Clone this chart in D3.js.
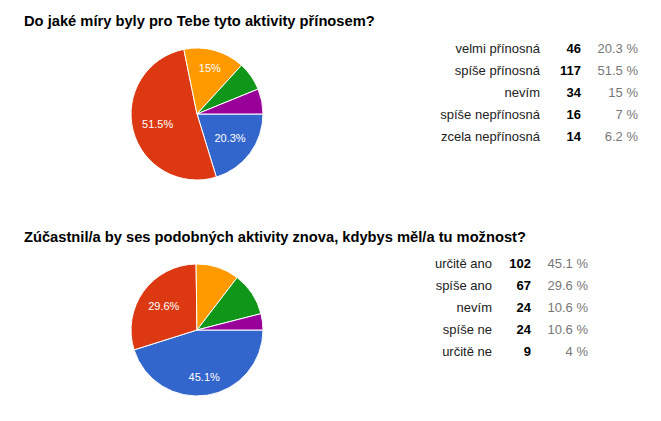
<!DOCTYPE html>
<html>
<head>
<meta charset="utf-8">
<script src="https://cdn.jsdelivr.net/npm/d3@7"></script>
<style>
  html, body { margin: 0; padding: 0; background: #fff; }
  svg { display: block; font-family: Arial, "Liberation Sans", sans-serif; }
</style>
</head>
<body>
<svg id="chart" width="661" height="421"></svg>
<script>
// ---- data ----
const title1 = "Do jaké míry byly pro Tebe tyto aktivity přínosem?";
const categories1 = ["velmi přínosná", "spíše přínosná", "nevím", "spíše nepřínosná", "zcela nepřínosná"];
const counts1 = [46, 117, 34, 16, 14];
const percents1 = ["20.3 %", "51.5 %", "15 %", "7 %", "6.2 %"];
const sliceLabels1 = ["20.3%", "51.5%", "15%", "", ""];

const title2 = "Zúčastnil/a by ses podobných aktivity znova, kdybys měl/a tu možnost?";
const categories2 = ["určitě ano", "spíše ano", "nevím", "spíše ne", "určitě ne"];
const counts2 = [102, 67, 24, 24, 9];
const percents2 = ["45.1 %", "29.6 %", "10.6 %", "10.6 %", "4 %"];
const sliceLabels2 = ["45.1%", "29.6%", "", "", ""];

const colors = ["#3366cc", "#dc3912", "#ff9900", "#109618", "#990099"];

const svg = d3.select("#chart");

function drawBlock(cfg) {
  const g = svg.append("g");
  g.append("text")
    .attr("x", 24).attr("y", cfg.titleY)
    .attr("font-size", 14.7).attr("font-weight", "bold").attr("fill", "#000")
    .text(cfg.title);

  const color = d3.scaleOrdinal().domain(cfg.categories).range(colors);
  const pie = d3.pie().sort(null).value(d => d.v)
    .startAngle(Math.PI / 2).endAngle(Math.PI / 2 + 2 * Math.PI);
  const data = cfg.categories.map((c, i) => ({ c, v: cfg.counts[i], lab: cfg.sliceLabels[i] }));
  const arcs = pie(data);
  const r = 66;
  const arc = d3.arc().innerRadius(0).outerRadius(r);

  const pg = g.append("g").attr("transform", `translate(${cfg.cx},${cfg.cy})`);
  pg.selectAll("path").data(arcs).join("path")
    .attr("d", arc)
    .attr("fill", d => color(d.data.c))
    .attr("stroke", "#fff").attr("stroke-width", 1);

  // labels: place the text box along the mid-angle ray so its far corner sits at ~0.86 r
  const R0 = r * 0.865, h = 11;
  pg.selectAll("text").data(arcs.filter(d => d.data.lab)).join("text")
    .attr("text-anchor", "middle").attr("dy", "0.36em")
    .attr("font-size", 11).attr("fill", "#fff")
    .text(d => d.data.lab)
    .attr("transform", function (d) {
      const w = this.getComputedTextLength();
      const mid = (d.startAngle + d.endAngle) / 2;
      const c = Math.sin(mid), s = -Math.cos(mid);
      const a = Math.sign(c) * w / 2, b = Math.sign(s) * h / 2;
      const p = c * a + s * b;
      const dist = -p + Math.sqrt(p * p - (a * a + b * b - R0 * R0));
      return `translate(${dist * c},${dist * s})`;
    });

  const y = d3.scalePoint().domain(cfg.categories).range([cfg.rowTop, cfg.rowTop + 88]);
  const lg = g.append("g");
  const rows = lg.selectAll("g").data(data).join("g")
    .attr("transform", d => `translate(0,${y(d.c)})`);
  rows.append("text").attr("x", cfg.colLabel).attr("text-anchor", "end")
    .attr("dy", "0.36em").attr("font-size", 13).attr("fill", "#222").text(d => d.c);
  rows.append("text").attr("x", cfg.colCount).attr("text-anchor", "end")
    .attr("dy", "0.36em").attr("font-size", 13).attr("font-weight", "bold").attr("fill", "#000")
    .text(d => d.v);
  rows.append("text").attr("x", cfg.colPct).attr("text-anchor", "end")
    .attr("dy", "0.36em").attr("font-size", 13).attr("fill", "#777")
    .text((d, i) => cfg.percents[i]);
}

drawBlock({
  title: title1, categories: categories1, counts: counts1, percents: percents1, sliceLabels: sliceLabels1,
  titleY: 26, cx: 197, cy: 114, rowTop: 48, colLabel: 540, colCount: 581, colPct: 638
});
drawBlock({
  title: title2, categories: categories2, counts: counts2, percents: percents2, sliceLabels: sliceLabels2,
  titleY: 242, cx: 197, cy: 330, rowTop: 263, colLabel: 492, colCount: 531, colPct: 588
});
</script>
</body>
</html>
